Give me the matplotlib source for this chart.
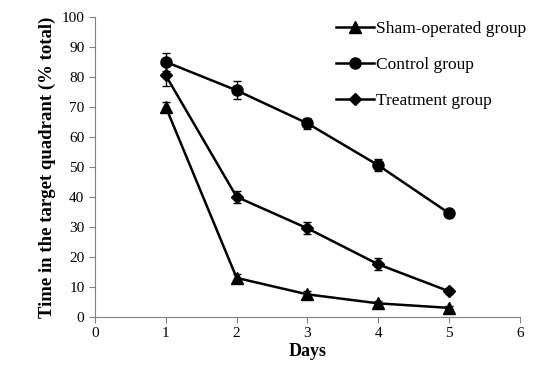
import matplotlib.pyplot as plt

plt.rcParams['font.family'] = ['Liberation Serif', 'DejaVu Serif']

# Данные
days = [1, 2, 3, 4, 5]
sham = [70, 13, 7.5, 4.5, 3]
sham_err = [1.5, 1.2, 1.2, 0.8, 0.6]
control = [85, 75.5, 64.5, 50.5, 34.5]
control_err = [3, 3, 1.8, 2, 1.2]
treatment = [80.5, 40, 29.5, 17.5, 8.5]
treatment_err = [3.5, 2, 2, 2, 1]

fig = plt.figure(figsize=(5.39, 3.75), dpi=100)
ax = fig.add_axes([0.176, 0.155, 0.789, 0.80])

common = dict(color='black', lw=1.8, capsize=3, elinewidth=1, ecolor='black')
ax.errorbar(days, sham, yerr=sham_err, marker='^', ms=8, label='Sham-operated group', **common)
ax.errorbar(days, control, yerr=control_err, marker='o', ms=8, label='Control group', **common)
ax.errorbar(days, treatment, yerr=treatment_err, marker='D', ms=6.5, label='Treatment group', **common)

ax.set_xlim(0, 6)
ax.set_ylim(0, 100)
ax.set_xticks(range(0, 7))
ax.set_yticks(range(0, 101, 10))
ax.set_xlabel('Days', fontsize=13, fontweight='bold', labelpad=2)
ax.set_ylabel('Time in the target quadrant (% total)', fontsize=13.5, fontweight='bold')

for s in ['top', 'right']:
    ax.spines[s].set_visible(False)
for s in ['left', 'bottom']:
    ax.spines[s].set_color('#808080')
ax.tick_params(direction='out', color='#808080', labelsize=11, length=4)

handles, labels = ax.get_legend_handles_labels()
ax.legend([h[0] for h in handles], labels, loc='upper right', frameon=False, fontsize=12.5,
          handlelength=2.2, handletextpad=0.1, labelspacing=1.15, bbox_to_anchor=(1.05, 1.04))

fig.savefig('out.png', dpi=100)
